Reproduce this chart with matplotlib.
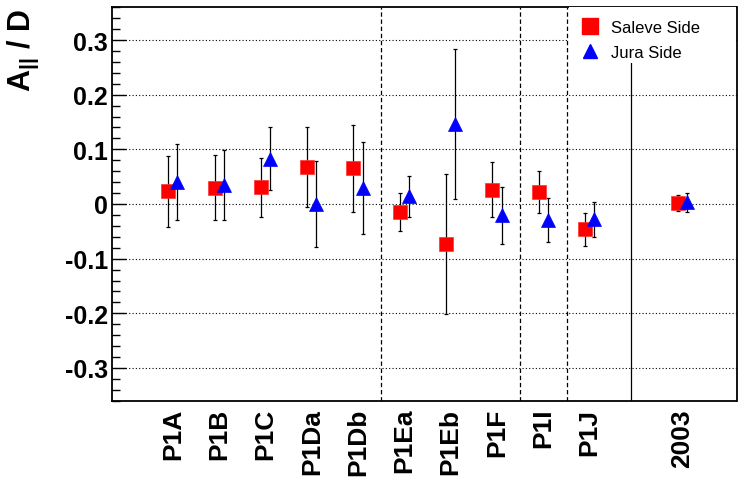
import matplotlib
matplotlib.use("Agg")
import matplotlib.pyplot as plt
from matplotlib.lines import Line2D
from matplotlib.patches import Rectangle
from matplotlib.ticker import MultipleLocator

# ---- data ----
categories = ["P1A", "P1B", "P1C", "P1Da", "P1Db", "P1Ea", "P1Eb", "P1F", "P1I", "P1J", "2003"]
positions = [0, 1, 2, 3, 4, 5, 6, 7, 8, 9, 11]
saleve_vals = [0.023, 0.030, 0.031, 0.067, 0.065, -0.014, -0.074, 0.026, 0.022, -0.046, 0.002]
saleve_errs = [0.065, 0.060, 0.054, 0.073, 0.079, 0.035, 0.128, 0.050, 0.038, 0.030, 0.015]
jura_vals = [0.040, 0.035, 0.083, 0.000, 0.030, 0.014, 0.146, -0.021, -0.029, -0.028, 0.003]
jura_errs = [0.069, 0.064, 0.058, 0.078, 0.084, 0.037, 0.137, 0.053, 0.040, 0.032, 0.017]
dashed_sep = [4.5, 7.5, 8.5]
solid_sep = 9.9

plt.rcParams['font.family'] = ['Liberation Sans', 'DejaVu Sans']
plt.rcParams['mathtext.fontset'] = 'custom'
plt.rcParams['mathtext.rm'] = 'Liberation Sans:bold'
plt.rcParams['mathtext.bf'] = 'Liberation Sans:bold'

W, H = 738, 481
fig = plt.figure(figsize=(W / 100, H / 100), dpi=100)
ax_left, ax_right, ax_top, ax_bot = 111.7, 736.5, 8.0, 402.0
ax = fig.add_axes([ax_left / W, 1 - ax_bot / H, (ax_right - ax_left) / W, (ax_bot - ax_top) / H])

off = 0.1
xs = [p - off for p in positions]
xj = [p + off for p in positions]

ax.errorbar(xs, saleve_vals, yerr=saleve_errs, fmt='none', ecolor='black',
            elinewidth=0.9, capsize=1.3, capthick=0.9, zorder=3)
ax.errorbar(xj, jura_vals, yerr=jura_errs, fmt='none', ecolor='black',
            elinewidth=0.9, capsize=1.3, capthick=0.9, zorder=3)
ax.plot(xs, saleve_vals, linestyle='none', marker='s', markersize=10.5,
        color='#ff0000', markeredgecolor='#ff3030', markeredgewidth=0.5, zorder=4)
ax.plot(xj, jura_vals, linestyle='none', marker='^', markersize=10,
        color='#0000ff', markeredgecolor='#0000ff', markeredgewidth=0.5, zorder=5)

for xv in dashed_sep:
    ax.axvline(xv, color='black', lw=0.9, linestyle=(0, (3.5, 2.2)), zorder=2)
ax.axvline(solid_sep, color='black', lw=0.9, zorder=2)

ax.set_xlim(-1.32, 12.17)
ax.set_ylim(-0.3604, 0.3604)

ax.yaxis.set_major_locator(MultipleLocator(0.1))
ax.yaxis.set_minor_locator(MultipleLocator(0.02))
ax.yaxis.grid(True, which='major', color='black', lw=0.8, linestyle=(0, (1, 2)), zorder=1)
ax.set_axisbelow(True)

ax.tick_params(axis='y', which='major', direction='in', length=10, width=1,
               labelsize=18, pad=2.5, right=False)
ax.tick_params(axis='y', which='minor', direction='in', length=5.8, width=1, right=False)
ytick_vals = [-0.3, -0.2, -0.1, 0.0, 0.1, 0.2, 0.3]
ytick_labels = ["-0.3", "-0.2", "-0.1", "0", "0.1", "0.2", "0.3"]
ax.set_yticks(ytick_vals)
ax.set_yticklabels(ytick_labels, fontweight='bold')

ax.set_xticks(positions)
ax.set_xticklabels(categories, rotation=90, fontweight='bold', fontsize=19)
ax.tick_params(axis='x', which='both', length=0, pad=5)

for s in ax.spines.values():
    s.set_linewidth(1.3)

# legend with white background box
bx0 = (569 - ax_left) / (ax_right - ax_left)
by0 = (ax_bot - 64) / (ax_bot - ax_top)
ax.add_patch(Rectangle((bx0, by0), 1 - bx0, 1 - by0, transform=ax.transAxes,
                       facecolor='white', edgecolor='none', zorder=6, clip_on=False))
handles = [Line2D([], [], linestyle='none', marker='s', markersize=11, color='#ff0000'),
           Line2D([], [], linestyle='none', marker='^', markersize=10.5, color='#0000ff')]
leg = ax.legend(handles, ["Saleve Side", "Jura Side"], loc='upper left',
                bbox_to_anchor=(581.7 / W, 1 - 21.0 / H), bbox_transform=fig.transFigure,
                frameon=False, fontsize=12, handlelength=1.0, handletextpad=0.76,
                borderpad=0, borderaxespad=0, labelspacing=0.58, numpoints=1)
leg.set_zorder(7)

fig.text(23 / W, 1 - 9 / H, r'A$_{||}$ / D', rotation=90, ha='center', va='top',
         fontsize=22, fontweight='bold')

fig.savefig("out.png", dpi=100)
